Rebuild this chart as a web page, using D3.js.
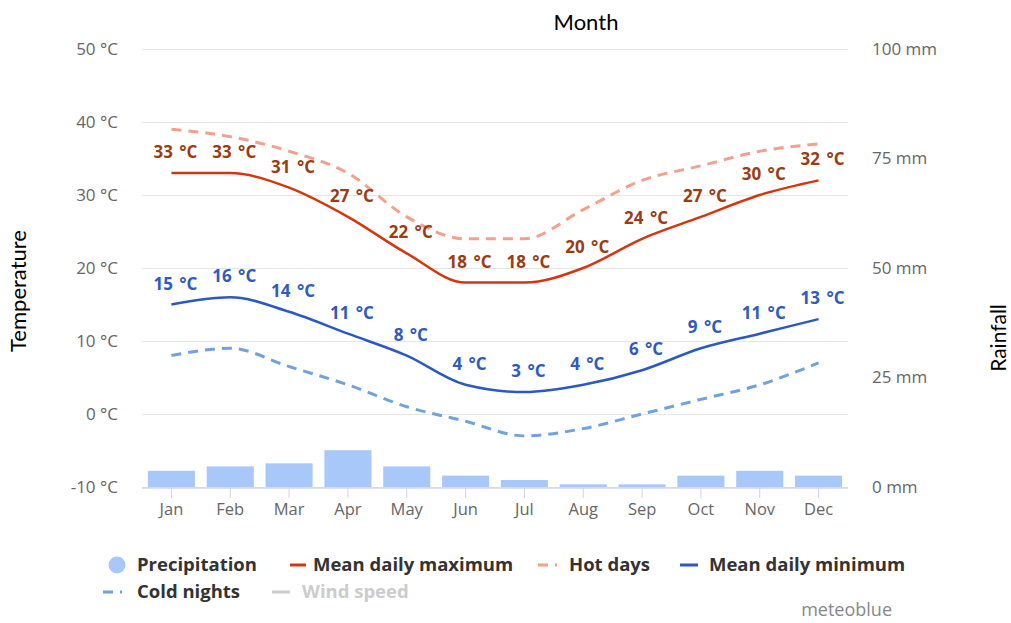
<!DOCTYPE html>
<html><head><meta charset="utf-8">
<script src="https://cdn.jsdelivr.net/npm/d3@7"></script>
<style>
html,body{margin:0;padding:0;background:#fff;}
svg{display:block;}
</style></head>
<body><svg id="c" width="1011" height="623"></svg>
<script>
const months = ["Jan","Feb","Mar","Apr","May","Jun","Jul","Aug","Sep","Oct","Nov","Dec"];
const precipitation = [3.7, 4.7, 5.4, 8.4, 4.7, 2.6, 1.6, 0.6, 0.6, 2.6, 3.7, 2.6];
const meanMax = [33, 33, 31, 27, 22, 18, 18, 20, 24, 27, 30, 32];
const hotDays = [39, 38, 36, 33, 27, 24, 24, 28, 32, 34, 36, 37];
const meanMin = [15, 16, 14, 11, 8, 4, 3, 4, 6, 9, 11, 13];
const coldNights = [8, 9, 6.5, 4, 1, -1, -3, -2, 0, 2, 4, 7];
const tempTicks = [-10, 0, 10, 20, 30, 40, 50];
const rainTicks = [0, 25, 50, 75, 100];
const legendRow1 = ["Precipitation","Mean daily maximum","Hot days","Mean daily minimum"];
const legendRow2 = ["Cold nights","Wind speed"];

const svg = d3.select("#c");
const L = 142, R = 848, T = 49, B = 487;
const x = d3.scaleBand().domain(months).range([L, R]).paddingInner(0.2).paddingOuter(0.1);
const xc = m => x(m) + x.bandwidth() / 2;
const yT = d3.scaleLinear().domain([-10, 50]).range([B, T]);
const yR = d3.scaleLinear().domain([0, 100]).range([B, T]);
const font = "'Open Sans', sans-serif";

// grid
const gLeft = svg.append("g").attr("transform", `translate(${L},0)`)
  .call(d3.axisLeft(yT).tickValues(tempTicks).tickSize(-(R - L)).tickFormat(d => d + " °C").tickPadding(24));
gLeft.select(".domain").remove();
gLeft.selectAll(".tick line").attr("stroke", "#e6e6e6");
gLeft.selectAll(".tick text").attr("fill", "#666").style("font-family", font).style("font-size", "17px");

const gRight = svg.append("g").attr("transform", `translate(${R},0)`)
  .call(d3.axisRight(yR).tickValues(rainTicks).tickSize(0).tickFormat(d => d + " mm").tickPadding(24));
gRight.select(".domain").remove();
gRight.selectAll(".tick text").attr("fill", "#666").style("font-family", font).style("font-size", "17px");

// bars
svg.append("g").selectAll("rect").data(precipitation).join("rect")
  .attr("x", (d, i) => x(months[i]))
  .attr("width", x.bandwidth())
  .attr("y", d => yR(d))
  .attr("height", d => yR(0) - yR(d))
  .attr("fill", "#a9c8fa");

// x axis
const gX = svg.append("g").attr("transform", `translate(0,${B + 1})`)
  .call(d3.axisBottom(x).tickSize(10).tickPadding(5));
gX.select(".domain").attr("stroke", "#ccd6eb").attr("stroke-width", 1.5).attr("d", `M${L},0H${R}`);
gX.selectAll(".tick line").attr("stroke", "#ccd6eb");
gX.selectAll(".tick text").attr("fill", "#666").style("font-family", font).style("font-size", "16.5px");

const line = d3.line().x((d, i) => xc(months[i])).y(d => yT(d)).curve(d3.curveMonotoneX);
function drawLine(data, color, width, dash) {
  svg.append("path").datum(data).attr("d", line).attr("fill", "none")
    .attr("stroke", color).attr("stroke-width", width)
    .attr("stroke-dasharray", dash || null).attr("stroke-linecap", "butt");
}
drawLine(coldNights, "#6fa3df", 3, "10,7");
drawLine(hotDays, "#f4a08c", 3, "10,7");
drawLine(meanMax, "#d4360f", 2.5);
drawLine(meanMin, "#2a59c2", 2.5);

function labels(data, color) {
  svg.append("g").selectAll("text").data(data).join("text")
    .attr("x", (d, i) => xc(months[i]) + 4)
    .attr("y", d => yT(d) - 15)
    .attr("text-anchor", "middle")
    .attr("fill", color)
    .style("font-family", font).style("font-size", "17px").style("font-weight", "bold")
    .style("word-spacing", "2px")
    .text(d => d + " °C");
}
labels(meanMax, "#9a3c14");
labels(meanMin, "#2e5bbd");

// titles
svg.append("text").attr("x", 586).attr("y", 30).attr("text-anchor", "middle")
  .style("font-family", "Lato, sans-serif").style("font-size", "22px").attr("fill", "#000").text("Month");
svg.append("text").attr("transform", "translate(26,291) rotate(-90)").attr("text-anchor", "middle")
  .style("font-family", "Lato, sans-serif").style("font-size", "22px").attr("fill", "#000").text("Temperature");
svg.append("text").attr("transform", "translate(1006,338) rotate(-90)").attr("text-anchor", "middle")
  .style("font-family", "Lato, sans-serif").style("font-size", "21px").attr("fill", "#000").text("Rainfall");

// legend
const lg = svg.append("g").style("font-family", font).style("font-size", "18.5px").style("font-weight", "bold");
const row1X = [137, 313, 569, 709];
const row2X = [137, 302];
legendRow1.forEach((t, i) => lg.append("text").attr("x", row1X[i]).attr("y", 571).attr("fill", "#333").text(t));
legendRow2.forEach((t, i) => lg.append("text").attr("x", row2X[i]).attr("y", 598).attr("fill", i === 1 ? "#ccc" : "#333").text(t));
lg.append("circle").attr("cx", 117).attr("cy", 565).attr("r", 8.5).attr("fill", "#a9c8fa");
lg.append("line").attr("x1", 290).attr("x2", 306).attr("y1", 565).attr("y2", 565).attr("stroke", "#d4360f").attr("stroke-width", 3);
lg.append("line").attr("x1", 538).attr("x2", 557).attr("y1", 565).attr("y2", 565).attr("stroke", "#f4a08c").attr("stroke-width", 3).attr("stroke-dasharray", "10,7");
lg.append("line").attr("x1", 680).attr("x2", 698).attr("y1", 565).attr("y2", 565).attr("stroke", "#2a59c2").attr("stroke-width", 3);
lg.append("line").attr("x1", 103).attr("x2", 122).attr("y1", 592).attr("y2", 592).attr("stroke", "#6fa3df").attr("stroke-width", 3).attr("stroke-dasharray", "10,7");
lg.append("line").attr("x1", 272).attr("x2", 290).attr("y1", 592).attr("y2", 592).attr("stroke", "#ccc").attr("stroke-width", 3);

svg.append("text").attr("x", 892).attr("y", 616).attr("text-anchor", "end")
  .style("font-family", font).style("font-size", "18px").attr("fill", "#888").text("meteoblue");
</script></body></html>
